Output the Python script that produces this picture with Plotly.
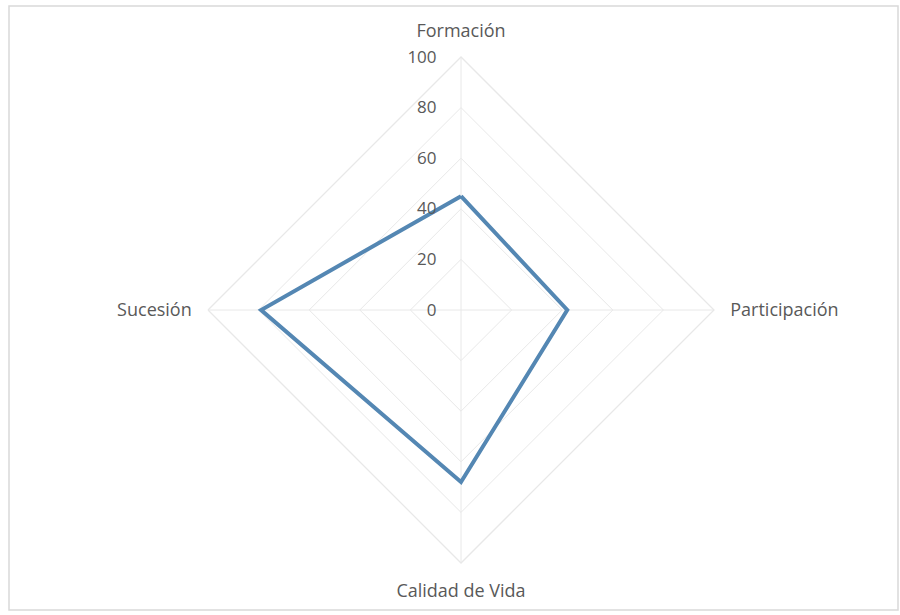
import plotly.graph_objects as go

categories = ["Formación", "Participación", "Calidad de Vida", "Sucesión"]
values = [45, 42, 68, 79]
radial_ticks = [0, 20, 40, 60, 80, 100]

W, H = 900, 615
cx, cy, R = 461, 310, 253

fig = go.Figure()
fig.add_trace(go.Scatterpolar(
    r=values + [values[0]],
    theta=categories + [categories[0]],
    mode="lines",
    line=dict(color="#5487b3", width=4),
    showlegend=False,
    hoverinfo="skip",
))

fig.update_layout(
    width=W, height=H,
    margin=dict(l=0, r=0, t=0, b=0),
    paper_bgcolor="white",
    font=dict(family="Open Sans, Lato, sans-serif", size=16, color="#595959"),
    polar=dict(
        domain=dict(x=[(cx - R) / W, (cx + R) / W],
                    y=[(H - cy - R) / H, (H - cy + R) / H]),
        gridshape="linear",
        bgcolor="white",
        radialaxis=dict(
            range=[0, 100],
            tickvals=radial_ticks,
            ticktext=[str(v) for v in radial_ticks],
            angle=90,
            tickangle=90,
            side="counterclockwise",
            showline=False,
            ticks="outside",
            ticklen=18,
            tickcolor="rgba(0,0,0,0)",
            gridcolor="#e8e8e8",
            gridwidth=1.3,
            tickfont=dict(size=17, color="#595959"),
        ),
        angularaxis=dict(
            rotation=90,
            direction="clockwise",
            gridcolor="#e8e8e8",
            gridwidth=1.3,
            linecolor="#e8e8e8",
            linewidth=1.3,
            ticks="outside",
            ticklen=12,
            tickcolor="rgba(0,0,0,0)",
            tickfont=dict(size=18, color="#595959"),
        ),
    ),
    shapes=[dict(type="rect", xref="paper", yref="paper",
                 x0=9 / W, x1=898 / W, y0=1 - 610 / H, y1=1 - 6 / H,
                 line=dict(color="#d9d9d9", width=1.5), fillcolor="rgba(0,0,0,0)")],
)

fig.write_html("out.html", config={"displayModeBar": False},
               post_script="document.body.style.margin='0';")
